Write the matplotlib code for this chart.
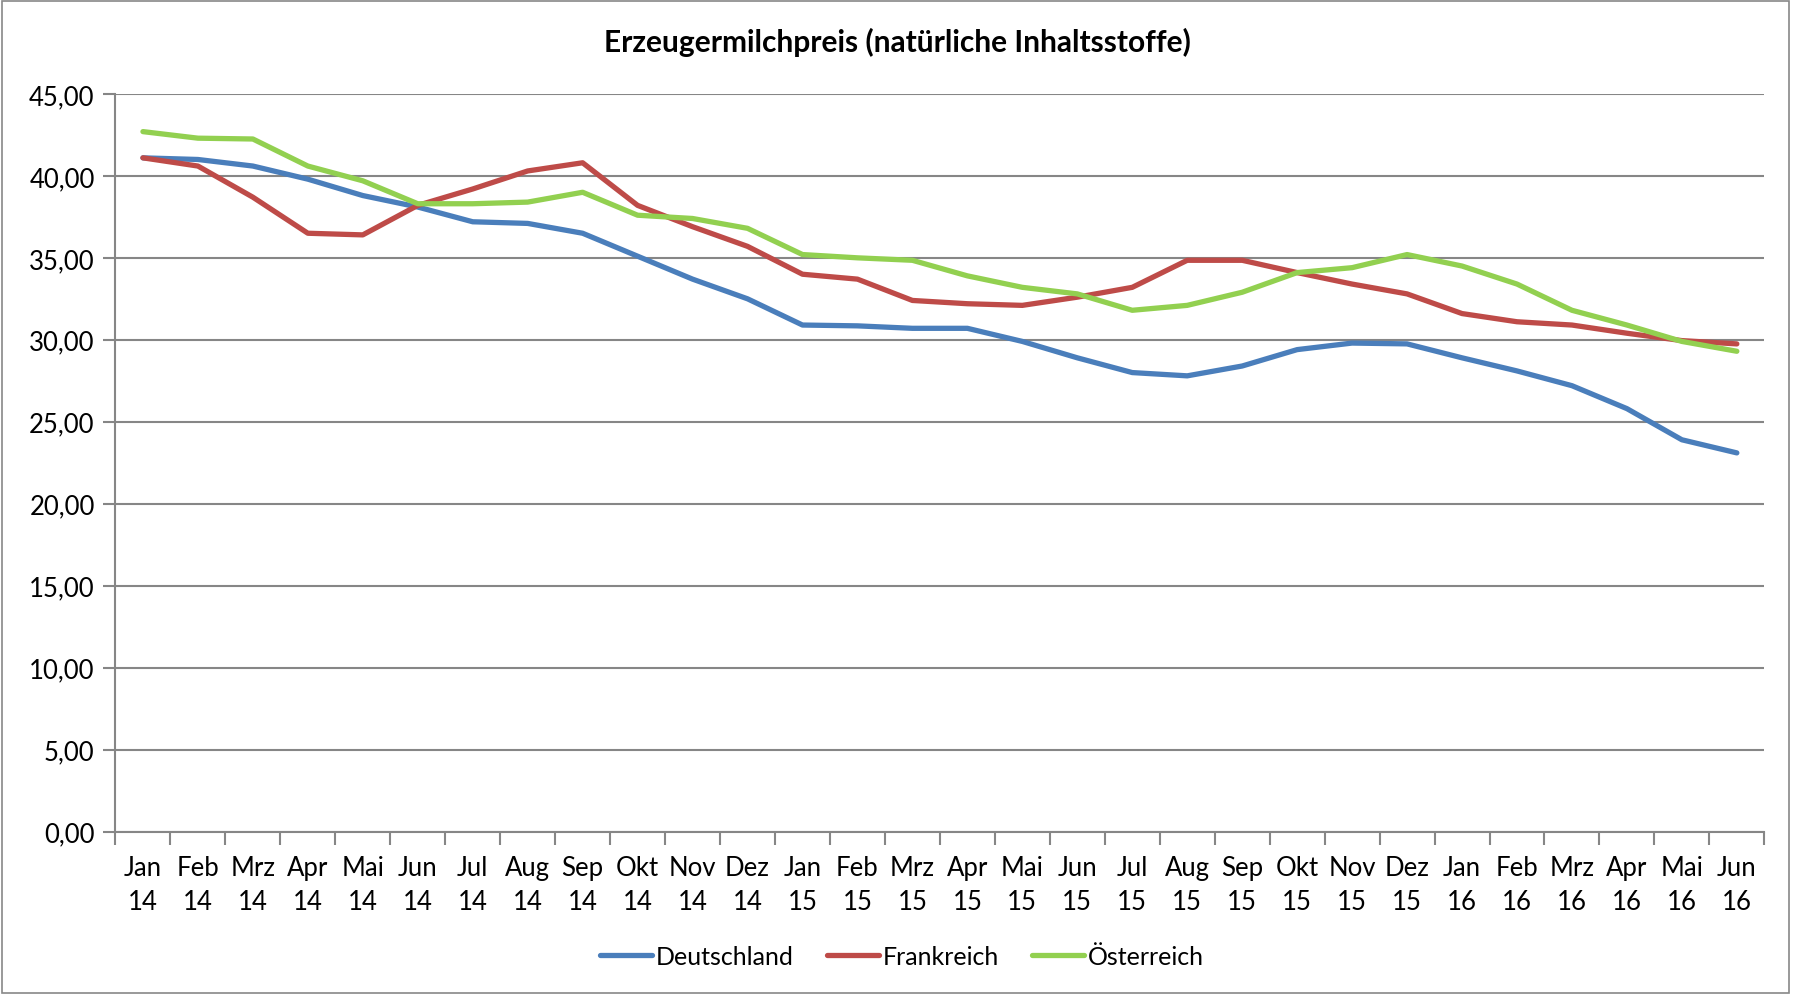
import matplotlib
matplotlib.use("Agg")
import matplotlib.pyplot as plt
from matplotlib.patches import Rectangle
from matplotlib.ticker import FixedLocator, FuncFormatter

plt.rcParams["font.family"] = ["Lato", "DejaVu Sans"]

# ── Data ─────────────────────────────────────────────────────
months = ["Jan", "Feb", "Mrz", "Apr", "Mai", "Jun", "Jul", "Aug", "Sep",
          "Okt", "Nov", "Dez"]
labels = [f"{m}\n{y}" for y in ("14", "15") for m in months] + \
         [f"{m}\n16" for m in months[:6]]

deutschland = [41.1, 41.0, 40.6, 39.8, 38.8, 38.1, 37.2, 37.1, 36.5, 35.1,
               33.7, 32.5, 30.9, 30.85, 30.7, 30.7, 29.9, 28.9, 28.0, 27.8,
               28.4, 29.4, 29.8, 29.75, 28.9, 28.1, 27.2, 25.8, 23.9, 23.1]
frankreich = [41.1, 40.6, 38.7, 36.5, 36.4, 38.2, 39.2, 40.3, 40.8, 38.2,
              36.9, 35.7, 34.0, 33.7, 32.4, 32.2, 32.1, 32.6, 33.2, 34.85,
              34.85, 34.1, 33.4, 32.8, 31.6, 31.1, 30.9, 30.4, 29.95, 29.75]
oesterreich = [42.7, 42.3, 42.25, 40.6, 39.7, 38.3, 38.3, 38.4, 39.0, 37.6,
               37.4, 36.8, 35.2, 35.0, 34.85, 33.9, 33.2, 32.8, 31.8, 32.1,
               32.9, 34.1, 34.4, 35.2, 34.5, 33.4, 31.8, 30.9, 29.9, 29.3]

series = [("Deutschland", deutschland, "#4A7EBB"),
          ("Frankreich", frankreich, "#BE4B48"),
          ("Österreich", oesterreich, "#92D050")]

GRID = "#868686"
FS = 18.5

# ── Figure ───────────────────────────────────────────────────
fig = plt.figure(figsize=(17.93, 9.95), dpi=100)
ax = fig.add_axes([0.0644, 0.1633, 0.9196, 0.7413])

x = [i + 0.5 for i in range(len(labels))]
for name, vals, col in series:
    ax.plot(x, vals, color=col, lw=3.8, label=name, solid_joinstyle="round",
            solid_capstyle="round", zorder=3)

ax.set_xlim(0, len(labels))
ax.set_ylim(0, 45)
ax.set_yticks(range(0, 46, 5))
ax.yaxis.set_major_formatter(FuncFormatter(lambda v, p: f"{v:.2f}".replace(".", ",")))
ax.grid(axis="y", color=GRID, lw=1.5, zorder=1)

ax.set_xticks(x)
ax.set_xticklabels(labels, linespacing=1.45)
ax.xaxis.set_minor_locator(FixedLocator(range(len(labels) + 1)))
ax.tick_params(axis="x", which="major", length=0, pad=17, labelsize=FS)
ax.tick_params(axis="x", which="minor", length=9, width=1.5, color=GRID)
ax.tick_params(axis="y", length=9, width=1.5, color=GRID, labelsize=FS, pad=6)

for s in ("top", "right"):
    ax.spines[s].set_visible(False)
for s in ("left", "bottom"):
    ax.spines[s].set_color(GRID)
    ax.spines[s].set_linewidth(1.5)

fig.text(0.5006, 0.9575, "Erzeugermilchpreis (natürliche Inhaltsstoffe)",
         ha="center", va="center", fontsize=21.5, fontweight="bold")

fig.legend(loc="center", bbox_to_anchor=(0.503, 0.038), ncol=3, frameon=False,
           fontsize=18, handlelength=2.1, handletextpad=0.15,
           columnspacing=1.3)

fig.patches.append(Rectangle((0.001, 0.001), 0.997, 0.997, transform=fig.transFigure,
                             fill=False, edgecolor="#888888", lw=1.2))

fig.savefig("out.png", dpi=100)
